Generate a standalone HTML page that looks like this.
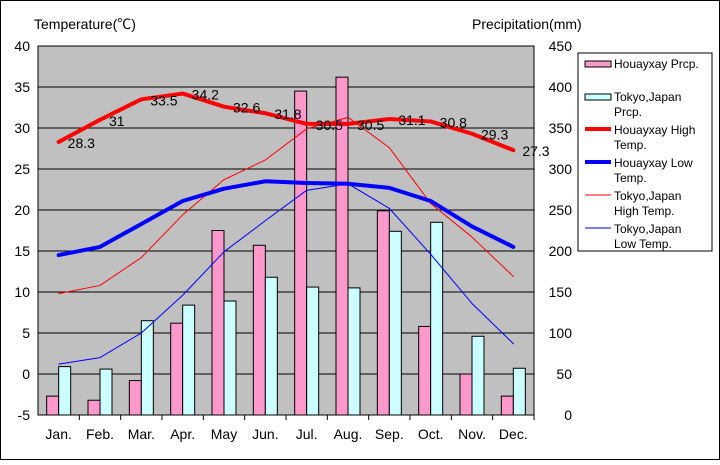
<!DOCTYPE html>
<html><head><meta charset="utf-8"><style>
body{margin:0;background:#fff}
svg text{font-family:"Liberation Sans","Noto Sans CJK JP",sans-serif}
</style></head><body>
<svg id="c" width="720" height="460" xmlns="http://www.w3.org/2000/svg">
<rect x="0.5" y="0.5" width="719" height="459" fill="#fff" stroke="#000"/>
<text x="34" y="29" font-size="14">Temperature(℃)</text>
<text x="472" y="29" font-size="14">Precipitation(mm)</text>
<rect x="38" y="46" width="496" height="369" fill="#c0c0c0" stroke="#000"/>
<g id="grid"></g><g id="bars"></g><g id="lines"></g><g id="labels"></g><g id="axes"></g>
<g>
<rect x="578" y="53" width="134" height="198" fill="#fff" stroke="#000"/>
<rect x="585" y="61" width="26" height="6" fill="#ff99cc" stroke="#000"/>
<text x="614" y="68" font-size="12">Houayxay Prcp.</text>
<rect x="585" y="94" width="26" height="6" fill="#ccffff" stroke="#000"/>
<text font-size="12"><tspan x="614" y="101">Tokyo,Japan</tspan><tspan x="614" y="116">Prcp.</tspan></text>
<line x1="585" y1="129" x2="611" y2="129" stroke="#ff0000" stroke-width="4"/>
<text font-size="12"><tspan x="614" y="134">Houayxay High</tspan><tspan x="614" y="149">Temp.</tspan></text>
<line x1="585" y1="162" x2="611" y2="162" stroke="#0000ff" stroke-width="4"/>
<text font-size="12"><tspan x="614" y="167">Houayxay Low</tspan><tspan x="614" y="182">Temp.</tspan></text>
<line x1="585" y1="195" x2="611" y2="195" stroke="#ff0000" stroke-width="1"/>
<text font-size="12"><tspan x="614" y="200">Tokyo,Japan</tspan><tspan x="614" y="215">High Temp.</tspan></text>
<line x1="585" y1="228" x2="611" y2="228" stroke="#0000ff" stroke-width="1"/>
<text font-size="12"><tspan x="614" y="233">Tokyo,Japan</tspan><tspan x="614" y="248">Low Temp.</tspan></text>
</g>
</svg>
<script>
const months=["Jan.","Feb.","Mar.","Apr.","May","Jun.","Jul.","Aug.","Sep.","Oct.","Nov.","Dec."];
const houayxayPrcp=[23,18,42,112,225,207,395,412,249,108,50,23];
const tokyoPrcp=[59,56,115,134,139,168,156,155,224,235,96,57];
const houayxayHigh=[28.3,31,33.5,34.2,32.6,31.8,30.5,30.5,31.1,30.8,29.3,27.3];
const houayxayLow=[14.5,15.5,18.3,21.1,22.6,23.5,23.3,23.2,22.7,21.1,18.0,15.5];
const tokyoHigh=[9.8,10.8,14.2,19.4,23.7,26.1,29.9,31.3,27.6,20.8,16.7,11.9];
const tokyoLow=[1.2,2.0,5.0,9.6,14.9,18.7,22.4,23.2,20.2,14.6,8.6,3.7];
const tempTicks=[-5,0,5,10,15,20,25,30,35,40];
const prcpTicks=[0,50,100,150,200,250,300,350,400,450];
const X0=38,X1=534,Y0=415,Y1=46,NS="http://www.w3.org/2000/svg";
const bw=(X1-X0)/12;
const xC=i=>X0+bw*(i+0.5);
const yT=v=>Y0-(v+5)/45*(Y0-Y1);
const yP=v=>Y0-v/450*(Y0-Y1);
function mk(p,t,a){const e=document.createElementNS(NS,t);for(const k in a)e.setAttribute(k,a[k]);document.getElementById(p).appendChild(e);return e;}
tempTicks.forEach((t,i)=>{
 const y=yT(t);
 if(t>-5&&t<40){const g=mk('grid','line',{x1:X0,x2:X1,y1:y,y2:y,stroke:'#000','stroke-width':1});
 
 }
 const l=mk('axes','text',{x:30,y:y+5,'font-size':14,'text-anchor':'end'});l.textContent=t;
 
 
 const r=mk('axes','text',{x:572,y:y+5,'font-size':14,'text-anchor':'end'});r.textContent=prcpTicks[i];
 
 
});
months.forEach((m,i)=>{
 const tk=mk('axes','line',{x1:X0+bw*(i+1),x2:X0+bw*(i+1),y1:Y0,y2:Y0+5,stroke:'#000'});
 
 
 const t=mk('axes','text',{x:xC(i),y:439,'font-size':14,'text-anchor':'middle'});t.textContent=m;
 
 
 const a=mk('bars','rect',{x:xC(i)-12,y:yP(houayxayPrcp[i]),width:12,height:Y0-yP(houayxayPrcp[i]),fill:'#ff99cc',stroke:'#000'});
 
 
 const b=mk('bars','rect',{x:xC(i),y:yP(tokyoPrcp[i]),width:12,height:Y0-yP(tokyoPrcp[i]),fill:'#ccffff',stroke:'#000'});
 
 
});
function line(arr,col,w,name){
 const p=mk('lines','polyline',{points:arr.map((v,i)=>xC(i)+','+yT(v)).join(' '),fill:'none',stroke:col,'stroke-width':w,'stroke-linejoin':'round','stroke-linecap':'round'});
 
 
}
line(tokyoHigh,'#ff0000',1,'line-tokyo-high');
line(tokyoLow,'#0000ff',1,'line-tokyo-low');
line(houayxayHigh,'#ff0000',4,'line-houayxay-high');
line(houayxayLow,'#0000ff',4,'line-houayxay-low');
houayxayHigh.forEach((v,i)=>{
 const t=mk('labels','text',{x:xC(i)+9,y:yT(v)+6,'font-size':14});t.textContent=v;
 
 
});
</script>
</body></html>
